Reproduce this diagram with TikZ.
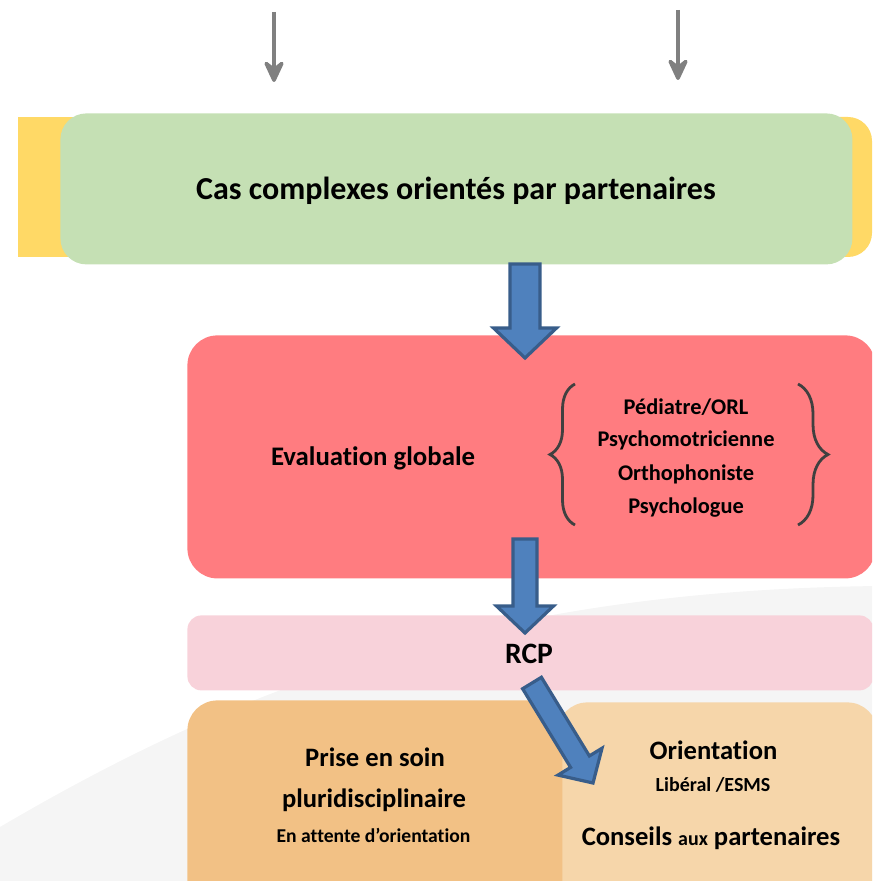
\documentclass[tikz,border=0pt]{standalone}
\usepackage{fontspec}
\setmainfont[RawFeature={-liga;-calt;-clig;-dlig}]{Carlito}
\usetikzlibrary{calc,decorations.pathreplacing,arrows.meta}
\definecolor{ylw}{RGB}{255,217,102}
\definecolor{grn}{RGB}{197,224,180}
\definecolor{redc}{RGB}{255,124,128}
\definecolor{pinkc}{RGB}{248,210,218}
\definecolor{orgL}{RGB}{242,193,133}
\definecolor{orgR}{RGB}{246,214,170}
\definecolor{bluef}{RGB}{79,129,189}
\definecolor{blued}{RGB}{56,93,138}
\definecolor{greyar}{RGB}{128,128,128}
\definecolor{bracec}{RGB}{64,64,64}
\definecolor{bgc}{RGB}{245,245,245}
\newcommand\fs[1]{\fontsize{#1}{#1}\selectfont\bfseries}
\newcommand\blockarrow[5]{%
  \coordinate (hb) at ($(#2)!#5!(#1)$);
  \filldraw[barrow] ($(#1)!#3!90:(#2)$) -- ($(hb)!#3!-90:(#1)$) -- ($(hb)!#4!-90:(#1)$) -- (#2)
    -- ($(hb)!#4!90:(#1)$) -- ($(hb)!#3!90:(#1)$) -- ($(#1)!#3!-90:(#2)$) -- cycle;}
\tikzset{
  box/.style={draw=none, inner sep=0pt, anchor=north west},
  txt/.style={inner sep=0pt, anchor=center, align=center},
  barrow/.style={fill=bluef, draw=blued, line width=1.6pt, line join=miter},
  greyarrow/.style={draw=greyar, line width=1.8pt, -{Stealth[length=13.5pt,width=12.5pt,inset=5pt,round]}},
  bracestyle/.style={draw=bracec, line width=1.4pt, decorate},
}
\begin{document}
\begin{tikzpicture}[x=0.5pt,y=-0.5pt]
\useasboundingbox (0,0) rectangle (872,881);
\clip (0,0) rectangle (872,881);
% faint background
\fill[bgc] (0,827) .. controls (250,680) and (500,590) .. (880,586) -- (880,890) -- (0,890) -- cycle;
% grey arrows
\coordinate (ga1) at (274,12);
\coordinate (gb1) at (274,82);
\coordinate (ga2) at (678,10);
\coordinate (gb2) at (678,80);
\draw[greyarrow] (ga1) -- (gb1);
\draw[greyarrow] (ga2) -- (gb2);
% yellow band
\fill[ylw] (18,117) rectangle (840,257);
\fill[ylw, rounded corners=12pt] (780,117) rectangle (872,257);
% green box
\node[box, fill=grn, rounded corners=13pt, minimum width=396pt, minimum height=75.5pt] (green) at (60,113) {};
\node[txt, font=\fs{16}] (title) at (456,191) {Cas complexes orientés par partenaires};
% red box
\node[box, fill=redc, rounded corners=15pt, minimum width=344pt, minimum height=121.5pt] (red) at (187,335) {};
\node[txt, font=\fs{13.4}] (evalg) at (373,458) {Evaluation globale};
\node[txt, font=\fs{11.2}] (l1) at (686,407) {Pédiatre/ORL};
\node[txt, font=\fs{11.2}] (l2) at (686,440.5) {Psychomotricienne};
\node[txt, font=\fs{11.2}] (l3) at (686,474) {Orthophoniste};
\node[txt, font=\fs{11.2}] (l4) at (686,508) {Psychologue};
\coordinate (bl1) at (575,525);
\coordinate (bl2) at (575,384);
\coordinate (br1) at (798,384);
\coordinate (br2) at (798,525);
\draw[bracestyle, decoration={brace, amplitude=12.5pt}] (bl1) -- (bl2);
\draw[bracestyle, decoration={brace, amplitude=15pt}] (br1) -- (br2);
% pink box
\node[box, fill=pinkc, rounded corners=7pt, minimum width=343pt, minimum height=37.5pt] (pink) at (187,615) {};
\node[txt, font=\fs{14.8}] (rcp) at (529,654) {RCP};
% orange boxes
\node[box, fill=orgR, rounded corners=15pt, minimum width=160pt, minimum height=110pt] (orR) at (557,702) {};
\node[box, fill=orgL, rounded corners=15pt, minimum width=187.5pt, minimum height=110pt] (orL) at (187,700) {};
\node[txt, font=\fs{13.3}] (p1) at (375,757) {Prise en soin};
\node[txt, font=\fs{13.3}] (p2) at (374,800) {pluridisciplinaire};
\node[txt, font=\fs{9.8}] (p3) at (373.5,835) {En attente d’orientation};
\node[txt, font=\fs{13.3}] (o1) at (713.5,750) {Orientation};
\node[txt, font=\fs{10}] (o2) at (713,785) {Libéral /ESMS};
\node[txt, font=\fs{13.3}] (o3) at (711,838) {Conseils {\fs{10}aux} partenaires};
% blue block arrows
\coordinate (a1s) at (525,264);
\coordinate (a1e) at (525,358);
\coordinate (a2s) at (525,539);
\coordinate (a2e) at (525,633);
\coordinate (a3s) at (532,683);
\coordinate (a3e) at (593,783);
\blockarrow{a1s}{a1e}{7.5pt}{15.75pt}{15pt}
\blockarrow{a2s}{a2e}{6pt}{14.25pt}{13.5pt}
\blockarrow{a3s}{a3e}{5.5pt}{12.9pt}{12.5pt}
\end{tikzpicture}
\end{document}
